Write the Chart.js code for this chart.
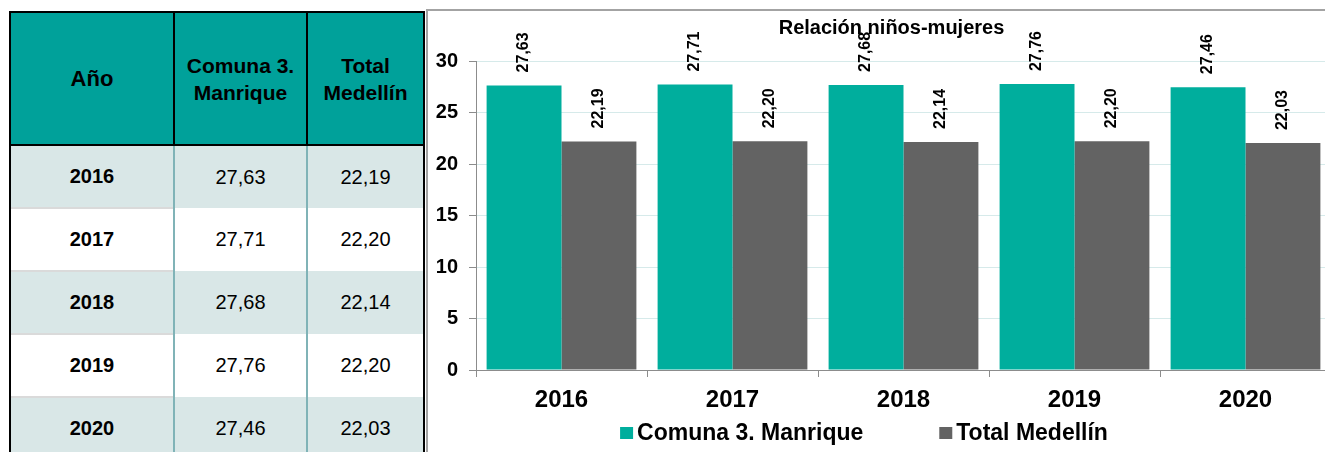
<!DOCTYPE html>
<html lang="es">
<head>
    <meta charset="UTF-8">
    <title>Relación niños-mujeres</title>
    <script src="https://cdn.jsdelivr.net/npm/chart.js"></script>
    <style>
        html, body {
            margin: 0;
            padding: 0;
            background: #fff;
            overflow: hidden;
            width: 1325px;
            height: 452px;
            font-family: 'Liberation Sans', Arial, sans-serif;
        }
        #tbl {
            position: absolute;
            left: 9px;
            top: 11px;
            border-collapse: collapse;
            table-layout: fixed;
            width: 414px;
        }
        #tbl th {
            background: #00a19a;
            border: 2px solid #000;
            height: 131px;
            padding: 0;
            font-weight: bold;
            font-size: 21px;
            line-height: 27px;
            color: #000;
        }
        #tbl th.first { font-size: 22px; }
        #tbl td {
            height: 61px;
            padding: 0;
            text-align: center;
            font-size: 20px;
            color: #000;
            border-left: 2px solid #80b3b7;
            border-right: 2px solid #80b3b7;
        }
        #tbl td.year {
            font-weight: bold;
            border-left: 2px solid #000;
            border-top: 2px solid #dadada;
        }
        #tbl td.last { border-right: 2px solid #000; }
        #tbl tr.alt td { background: #d9e7e7; }
        #panel {
            position: absolute;
            left: 426px;
            top: 9px;
            width: 1000px;
            height: 500px;
            border-left: 2px solid #a3a3a3;
            border-top: 2px solid #a3a3a3;
        }
        #chartBox {
            position: absolute;
            left: 428px;
            top: 11px;
            width: 910px;
            height: 441px;
        }
    </style>
</head>
<body>
    <table id="tbl">
        <colgroup>
            <col style="width:164px">
            <col style="width:133px">
            <col style="width:117px">
        </colgroup>
        <thead>
            <tr>
                <th class="first">Año</th>
                <th>Comuna 3.<br>Manrique</th>
                <th>Total<br>Medellín</th>
            </tr>
        </thead>
        <tbody id="tblBody"></tbody>
    </table>
    <div id="panel"></div>
    <div id="chartBox"><canvas id="chart"></canvas></div>

    <script>
        const years = ['2016', '2017', '2018', '2019', '2020'];
        const comuna = [27.63, 27.71, 27.68, 27.76, 27.46];
        const medellin = [22.19, 22.20, 22.14, 22.20, 22.03];
        const yTicks = [0, 5, 10, 15, 20, 25, 30];
        const seriesNames = ['Comuna 3. Manrique', 'Total Medellín'];
        const titleText = 'Relación niños-mujeres';

        const FONT = "'Liberation Sans', Arial, sans-serif";
        const fmt = v => v.toFixed(2).replace('.', ',');

        // table rows
        const body = document.getElementById('tblBody');
        years.forEach((y, i) => {
            const tr = document.createElement('tr');
            if (i % 2 === 0) tr.className = 'alt';
            tr.innerHTML = '<td class="year">' + y + '</td><td>' + fmt(comuna[i]) +
                '</td><td class="last">' + fmt(medellin[i]) + '</td>';
            body.appendChild(tr);
        });

        // rotated value labels above bars
        const valueLabels = {
            id: 'valueLabels',
            afterDatasetsDraw(chart) {
                const ctx = chart.ctx;
                ctx.save();
                ctx.font = 'bold 16px ' + FONT;
                ctx.fillStyle = '#000';
                ctx.textAlign = 'left';
                ctx.textBaseline = 'middle';
                chart.data.datasets.forEach((ds, di) => {
                    chart.getDatasetMeta(di).data.forEach((bar, i) => {
                        ctx.save();
                        ctx.translate(bar.x, bar.y - 13);
                        ctx.rotate(-Math.PI / 2);
                        ctx.fillText(fmt(ds.data[i]), 0, 0);
                        ctx.restore();
                    });
                });
                ctx.restore();
            }
        };

        // title + legend drawn at the spots used in the original
        const titleLegend = {
            id: 'titleLegend',
            afterDraw(chart) {
                const ctx = chart.ctx;
                ctx.save();
                ctx.fillStyle = '#000';
                ctx.font = 'bold 20px ' + FONT;
                ctx.textAlign = 'center';
                ctx.textBaseline = 'middle';
                ctx.fillText(titleText, 463.5, 17);

                ctx.font = 'bold 23px ' + FONT;
                ctx.textAlign = 'left';
                const box = 13, gap = 4, itemGap = 76;
                const items = chart.data.datasets.map(ds => ({
                    text: ds.label,
                    color: ds.backgroundColor,
                    w: box + gap + ctx.measureText(ds.label).width
                }));
                const total = items.reduce((s, it) => s + it.w, 0) + itemGap * (items.length - 1);
                let x = 436 - total / 2;
                const y = 422;
                items.forEach(it => {
                    ctx.fillStyle = it.color;
                    ctx.fillRect(x, y - 6, box, 12);
                    ctx.fillStyle = '#000';
                    ctx.fillText(it.text, x + box + gap, y + 1);
                    x += it.w + itemGap;
                });
                ctx.restore();
            }
        };

        new Chart(document.getElementById('chart'), {
            type: 'bar',
            data: {
                labels: years,
                datasets: [
                    {
                        label: seriesNames[0],
                        data: comuna,
                        backgroundColor: '#00ae9d',
                        categoryPercentage: 0.876,
                        barPercentage: 1
                    },
                    {
                        label: seriesNames[1],
                        data: medellin,
                        backgroundColor: '#636363',
                        categoryPercentage: 0.876,
                        barPercentage: 1
                    }
                ]
            },
            options: {
                responsive: true,
                maintainAspectRatio: false,
                animation: false,
                layout: { padding: { top: 50, right: 7, bottom: 37, left: 0 } },
                plugins: {
                    legend: { display: false },
                    title: { display: false },
                    tooltip: { enabled: false }
                },
                scales: {
                    x: {
                        grid: {
                            offset: true,
                            drawOnChartArea: false,
                            tickLength: 7,
                            tickColor: '#8c8c8c'
                        },
                        border: { color: '#8c8c8c' },
                        ticks: {
                            color: '#000',
                            padding: 9,
                            font: { family: FONT, size: 24, weight: 'bold' }
                        },
                        afterFit: s => { s.height = 45; }
                    },
                    y: {
                        min: yTicks[0],
                        max: yTicks[yTicks.length - 1],
                        afterBuildTicks: s => { s.ticks = yTicks.map(v => ({ value: v })); },
                        grid: {
                            color: '#d6eaea',
                            tickColor: '#8c8c8c',
                            tickLength: 7
                        },
                        border: { color: '#8c8c8c' },
                        ticks: {
                            color: '#000',
                            padding: 11,
                            font: { family: FONT, size: 20, weight: 'bold' }
                        },
                        afterFit: s => { s.width = 48; }
                    }
                }
            },
            plugins: [valueLabels, titleLegend]
        });
    </script>
</body>
</html>
